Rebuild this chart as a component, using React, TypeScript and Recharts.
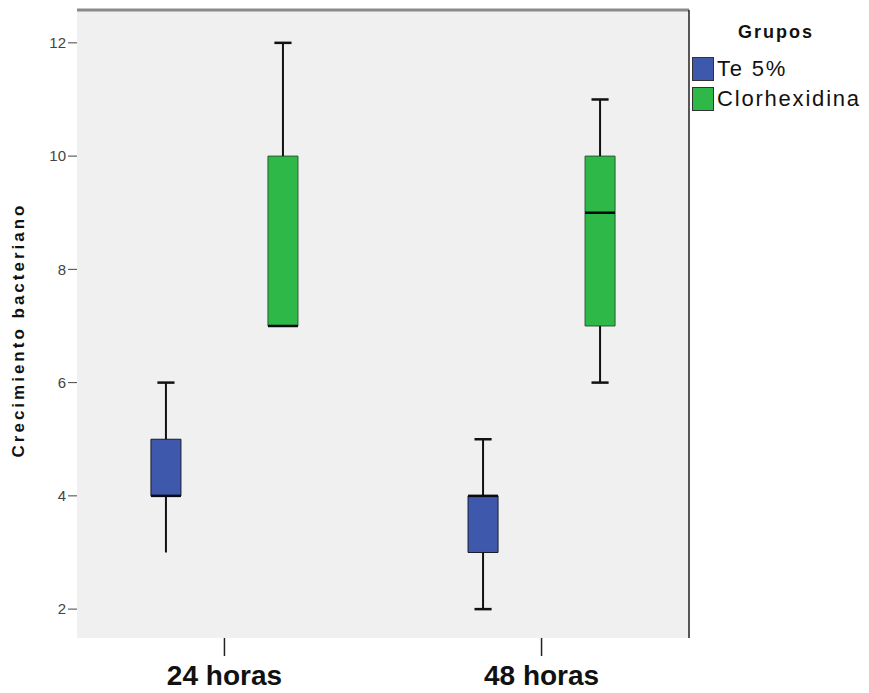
import React from 'react';
import {
  ComposedChart,
  XAxis,
  YAxis,
  CartesianGrid,
  ReferenceArea,
  ReferenceLine,
} from 'recharts';

const categories = ['24 horas', '48 horas'];
const categoryPos = [1, 2];
const yTicks = [2, 4, 6, 8, 10, 12];
const X_DOMAIN: [number, number] = [0.535, 2.465];
const Y_DOMAIN: [number, number] = [1.49, 12.58];

// Te 5%
const teMin = [3, 2];
const teQ1 = [4, 3];
const teMed = [4, 4];
const teQ3 = [5, 4];
const teMax = [6, 5];
const teLowCap = [false, true];

// Clorhexidina
const clMin = [7, 6];
const clQ1 = [7, 7];
const clMed = [7, 9];
const clQ3 = [10, 10];
const clMax = [12, 11];
const clLowCap = [false, true];

const BLUE = '#3E58AC';
const GREEN = '#2EB848';
const FONT = "Arial, 'Liberation Sans', sans-serif";

const OFFSET = 0.1845;
const HALF_BOX = 0.0473;
const HALF_CAP = 0.027;

const data = categories.map((c, i) => ({ x: categoryPos[i], name: c }));

type Box = { cx: number; min: number; q1: number; med: number; q3: number; max: number; lowCap: boolean; color: string };

const boxes: Box[] = [];
categoryPos.forEach((p, i) => {
  boxes.push({ cx: p - OFFSET, min: teMin[i], q1: teQ1[i], med: teMed[i], q3: teQ3[i], max: teMax[i], lowCap: teLowCap[i], color: BLUE });
  boxes.push({ cx: p + OFFSET, min: clMin[i], q1: clQ1[i], med: clMed[i], q3: clQ3[i], max: clMax[i], lowCap: clLowCap[i], color: GREEN });
});

const renderBox = (b: Box, k: number) => {
  const els: React.ReactNode[] = [];
  if (b.max > b.q3) {
    els.push(
      <ReferenceLine key={`wu${k}`} segment={[{ x: b.cx, y: b.q3 }, { x: b.cx, y: b.max }]} stroke="#111" strokeWidth={2} ifOverflow="visible" />
    );
    els.push(
      <ReferenceLine key={`cu${k}`} segment={[{ x: b.cx - HALF_CAP, y: b.max }, { x: b.cx + HALF_CAP, y: b.max }]} stroke="#111" strokeWidth={2.5} ifOverflow="visible" />
    );
  }
  if (b.min < b.q1) {
    els.push(
      <ReferenceLine key={`wl${k}`} segment={[{ x: b.cx, y: b.min }, { x: b.cx, y: b.q1 }]} stroke="#111" strokeWidth={2} ifOverflow="visible" />
    );
    if (b.lowCap) {
      els.push(
        <ReferenceLine key={`cl${k}`} segment={[{ x: b.cx - HALF_CAP, y: b.min }, { x: b.cx + HALF_CAP, y: b.min }]} stroke="#111" strokeWidth={2.5} ifOverflow="visible" />
      );
    }
  }
  els.push(
    <ReferenceArea key={`b${k}`} x1={b.cx - HALF_BOX} x2={b.cx + HALF_BOX} y1={b.q1} y2={b.q3} fill={b.color} fillOpacity={1} stroke={b.color === BLUE ? '#1a1a2a' : '#2a5a30'} strokeWidth={1} ifOverflow="visible" />
  );
  els.push(
    <ReferenceLine key={`m${k}`} segment={[{ x: b.cx - HALF_BOX, y: b.med }, { x: b.cx + HALF_BOX, y: b.med }]} stroke="#0a0a14" strokeWidth={2.5} ifOverflow="visible" />
  );
  return els;
};

const XTick = (props: any) => {
  const { x, y, payload } = props;
  const idx = categoryPos.indexOf(payload.value);
  return (
    <text x={x} y={y} dy={27} textAnchor="middle" fontFamily={FONT} fontWeight="bold" fontSize={28} fill="#111">
      {categories[idx]}
    </text>
  );
};

const YLabel = (props: any) => {
  const vb = props.viewBox || { x: 0, y: 10, width: 77, height: 628 };
  const cx = 20;
  const cy = vb.y + vb.height / 2 + 6;
  return (
    <text x={cx} y={cy} transform={`rotate(-90, ${cx}, ${cy})`} textAnchor="middle" dominantBaseline="middle" fontFamily={FONT} fontWeight="bold" fontSize={17} letterSpacing={3} fill="#111">
      Crecimiento bacteriano
    </text>
  );
};

export default function App() {
  return (
    <div style={{ position: 'absolute', left: 0, top: 0, width: 869, height: 693, background: '#fff' }}>
      <ComposedChart width={869} height={693} data={data} margin={{ top: 10, right: 180, bottom: 0, left: 0 }}>
        <CartesianGrid fill="#f0f0f0" stroke="none" horizontal={false} vertical={false} />
        <XAxis
          dataKey="x"
          type="number"
          domain={X_DOMAIN}
          allowDataOverflow
          ticks={categoryPos}
          tick={<XTick />}
          tickSize={18}
          tickLine={{ stroke: '#222', strokeWidth: 1.5 }}
          axisLine={false}
          height={55}
        />
        <YAxis
          type="number"
          domain={Y_DOMAIN}
          allowDataOverflow
          ticks={yTicks}
          width={77}
          tickSize={9}
          tickMargin={2}
          axisLine={false}
          tickLine={{ stroke: '#444' }}
          tick={{ fontSize: 15, fill: '#444', fontFamily: FONT }}
          label={<YLabel />}
        />
        <ReferenceLine y={Y_DOMAIN[1]} stroke="#8a8a8a" strokeWidth={3} ifOverflow="visible" />
        <ReferenceLine x={X_DOMAIN[1]} stroke="#222" strokeWidth={1.5} ifOverflow="visible" />
        {boxes.map((b, k) => renderBox(b, k))}
      </ComposedChart>
      <div style={{ position: 'absolute', left: 692, top: 0, width: 177, fontFamily: FONT, color: '#111' }}>
        <div style={{ position: 'absolute', left: 0, top: 22, width: 168, textAlign: 'center', fontWeight: 'bold', fontSize: 18, letterSpacing: 2 }}>Grupos</div>
        {[['Te 5%', BLUE, 57], ['Clorhexidina', GREEN, 87]].map(([name, col, top]) => (
          <div key={name as string} style={{ position: 'absolute', left: 0, top: top as number, display: 'flex', alignItems: 'center', height: 24, whiteSpace: 'nowrap' }}>
            <div style={{ width: 20, height: 22, background: col as string, border: '1px solid #333', marginRight: 3 }} />
            <span style={{ fontSize: 22, letterSpacing: 1.8 }}>{name}</span>
          </div>
        ))}
      </div>
    </div>
  );
}
